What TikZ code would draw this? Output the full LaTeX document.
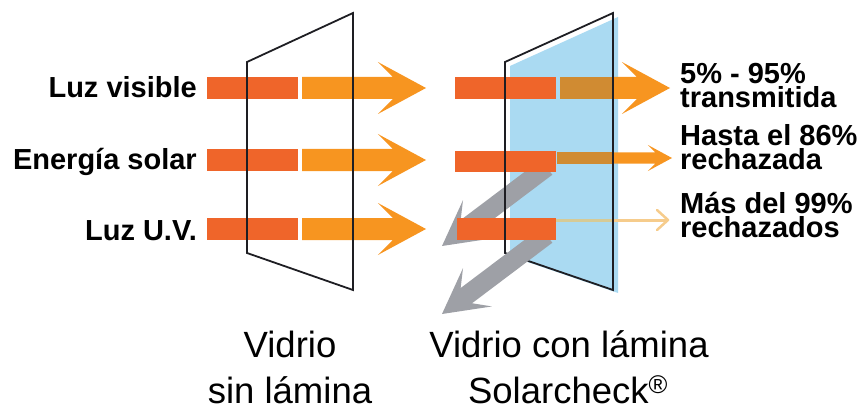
\documentclass[tikz,border=0pt]{standalone}
\usepackage{fontspec}
\setmainfont{Liberation Sans}
\definecolor{redor}{RGB}{239,101,42}
\definecolor{lightor}{RGB}{247,149,32}
\definecolor{tanor}{RGB}{208,139,50}
\definecolor{glassblue}{RGB}{170,218,242}
\definecolor{refgray}{RGB}{158,160,166}
\definecolor{paleor}{RGB}{246,204,140}
\definecolor{paletan}{RGB}{214,202,150}
\definecolor{paneline}{RGB}{30,30,35}
% fill colour, tip, angle, length, half shaft, half head
\newcommand\chevron[6]{%
\begin{scope}[shift={(#2)},rotate=#3]
\pgfmathsetmacro\hb{1.85*#6}\pgfmathsetmacro\hn{1.27*#6}
\fill[#1] (-#4,-#5) -- (-\hn,-#5) -- (-\hb,-#6) -- (0,0) -- (-\hb,#6) -- (-\hn,#5) -- (-#4,#5) -- cycle;
\end{scope}}
\tikzset{
 lab/.style={font=\bfseries\fontsize{29}{23}\selectfont,inner sep=0pt},
 glasscap/.style={font=\fontsize{36.5}{50}\selectfont,inner sep=0pt,anchor=base},
 pane/.style={line width=1.8pt,draw=paneline,line join=miter}
}
\begin{document}
\begin{tikzpicture}[x=1pt,y=-1pt]
\useasboundingbox (0,0) rectangle (862,409);
% glass without film
\foreach \c in {88,160,229}{
\fill[redor] (207,\c-11) rectangle (298,\c+11);
\chevron{lightor}{426,\c}{0}{124}{11}{26}
}
\draw[pane] (247,62) -- (353,13) -- (353,290) -- (247,253) -- cycle;
% glass with film
\fill[glassblue] (510,66) -- (618,17) -- (618,293) -- (510,256) -- cycle;
\fill[tanor] (560,77) rectangle (613,99);\chevron{lightor}{670,88}{0}{57}{11}{26}
\fill[tanor] (557,152.5) rectangle (613,163.5);\chevron{lightor}{672,158}{0}{59}{5.5}{13}
\draw[paletan,line width=3pt] (556,220) -- (613,220);
\draw[paleor,line width=3pt] (613,220) -- (667,220);
\draw[paleor,line width=2.5pt,line cap=round,line join=round] (657,210) -- (668,220) -- (657,230);
\draw[pane] (505,62) -- (613,13) -- (613,290) -- (505,253) -- cycle;
\chevron{refgray}{442,246}{217}{131}{9.5}{24}
\chevron{refgray}{442,314}{217}{131}{9.5}{24}
\fill[redor] (455,77) rectangle (556,99);
\fill[redor] (455,151) rectangle (556,172);
\fill[redor] (457,218) rectangle (556,240);
\draw[pane] (505,62) -- (505,253);
% labels
\node[lab,anchor=base east] (visible) at (197,98) {Luz visible};
\node[lab,anchor=base east] (solar) at (197,169) {Energía solar};
\node[lab,anchor=base east] (uv) at (197,240) {Luz U.V.};
\node[lab,anchor=base west] (trans) at (680,84) {5\% - 95\%};
\node[lab,anchor=base west] (trans2) at (680,108) {transmitida};
\node[lab,anchor=base west] (rech) at (680,146) {Hasta el 86\%};
\node[lab,anchor=base west] (rech2) at (680,169) {rechazada};
\node[lab,anchor=base west] (rechuv) at (680,213) {Más del 99\%};
\node[lab,anchor=base west] (rechuv2) at (680,237) {rechazados};
\node[glasscap] (sin) at (290,357) {Vidrio};
\node[glasscap] (sin2) at (290,403) {sin lámina};
\node[glasscap] (con) at (569,357) {Vidrio con lámina};
\node[glasscap] (con2) at (568,403) {Solarcheck\textsuperscript{®}};
\end{tikzpicture}
\end{document}
